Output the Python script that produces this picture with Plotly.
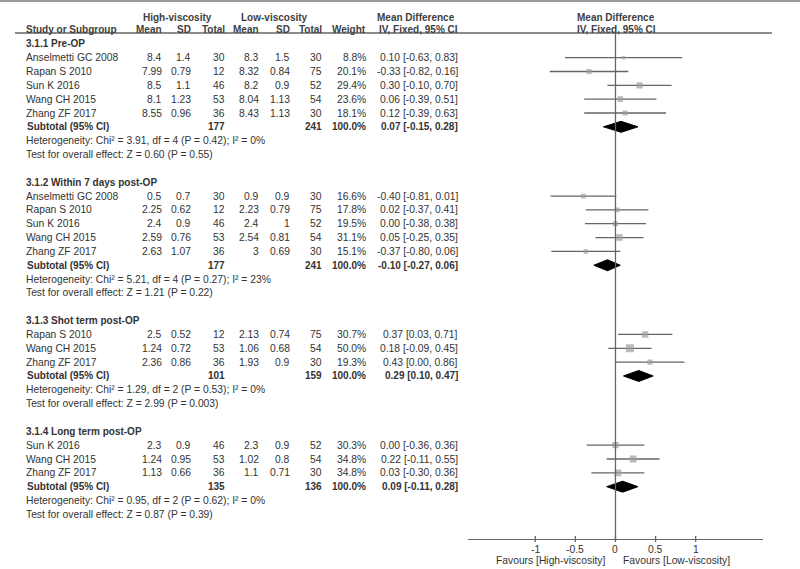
import plotly.graph_objects as go

# ---------------- data ----------------
subgroup_titles = ["3.1.1 Pre-OP", "3.1.2 Within 7 days post-OP",
                   "3.1.3 Shot term post-OP", "3.1.4 Long term post-OP"]

study_group = [0, 0, 0, 0, 0, 1, 1, 1, 1, 1, 2, 2, 2, 3, 3, 3]
study_names = ["Anselmetti GC 2008", "Rapan S 2010", "Sun K 2016", "Wang CH 2015", "Zhang ZF 2017",
               "Anselmetti GC 2008", "Rapan S 2010", "Sun K 2016", "Wang CH 2015", "Zhang ZF 2017",
               "Rapan S 2010", "Wang CH 2015", "Zhang ZF 2017",
               "Sun K 2016", "Wang CH 2015", "Zhang ZF 2017"]
high_mean = [8.4, 7.99, 8.5, 8.1, 8.55, 0.5, 2.25, 2.4, 2.59, 2.63, 2.5, 1.24, 2.36, 2.3, 1.24, 1.13]
high_sd = [1.4, 0.79, 1.1, 1.23, 0.96, 0.7, 0.62, 0.9, 0.76, 1.07, 0.52, 0.72, 0.86, 0.9, 0.95, 0.66]
high_n = [30, 12, 46, 53, 36, 30, 12, 46, 53, 36, 12, 53, 36, 46, 53, 36]
low_mean = [8.3, 8.32, 8.2, 8.04, 8.43, 0.9, 2.23, 2.4, 2.54, 3, 2.13, 1.06, 1.93, 2.3, 1.02, 1.1]
low_sd = [1.5, 0.84, 0.9, 1.13, 1.13, 0.9, 0.79, 1, 0.81, 0.69, 0.74, 0.68, 0.9, 0.9, 0.8, 0.71]
low_n = [30, 75, 52, 54, 30, 30, 75, 52, 54, 30, 75, 54, 30, 52, 54, 30]
weight = [8.8, 20.1, 29.4, 23.6, 18.1, 16.6, 17.8, 19.5, 31.1, 15.1, 30.7, 50.0, 19.3, 30.3, 34.8, 34.8]
md = [0.10, -0.33, 0.30, 0.06, 0.12, -0.40, 0.02, 0.00, 0.05, -0.37, 0.37, 0.18, 0.43, 0.00, 0.22, 0.03]
ci_low = [-0.63, -0.82, -0.10, -0.39, -0.39, -0.81, -0.37, -0.38, -0.25, -0.80, 0.03, -0.09, 0.00, -0.36, -0.11, -0.30]
ci_high = [0.83, 0.16, 0.70, 0.51, 0.63, 0.01, 0.41, 0.38, 0.35, 0.06, 0.71, 0.45, 0.86, 0.36, 0.55, 0.36]

sub_high_n = [177, 177, 101, 135]
sub_low_n = [241, 241, 159, 136]
sub_md = [0.07, -0.10, 0.29, 0.09]
sub_low = [-0.15, -0.27, 0.10, -0.11]
sub_high = [0.28, 0.06, 0.47, 0.28]
heterogeneity = ["Heterogeneity: Chi² = 3.91, df = 4 (P = 0.42); I² = 0%",
                 "Heterogeneity: Chi² = 5.21, df = 4 (P = 0.27); I² = 23%",
                 "Heterogeneity: Chi² = 1.29, df = 2 (P = 0.53); I² = 0%",
                 "Heterogeneity: Chi² = 0.95, df = 2 (P = 0.62); I² = 0%"]
overall_test = ["Test for overall effect: Z = 0.60 (P = 0.55)",
                "Test for overall effect: Z = 1.21 (P = 0.22)",
                "Test for overall effect: Z = 2.99 (P = 0.003)",
                "Test for overall effect: Z = 0.87 (P = 0.39)"]

tick_vals = [-1, -0.5, 0, 0.5, 1]
tick_text = ["-1", "-0.5", "0", "0.5", "1"]
favours_left = "Favours [High-viscosity]"
favours_right = "Favours [Low-viscosity]"

# ---------------- layout helpers ----------------
W, H = 800, 569
FONT = "Liberation Sans, Arial, sans-serif"
FS = 10.3
FSB = 10.0
TXT = "#333333"
AXC = "#666666"
ROW0, DROW = 43.8, 13.84
AXIS_Y = 539

def row_y(i):
    return ROW0 + DROW * i

annotations = []

def txt(x, y, s, anchor="left", bold=False, color=TXT, xref="paper"):
    annotations.append(dict(
        x=(x / W) if xref == "paper" else x, y=y, xref=xref, yref="y",
        text=("<b>%s</b>" % s) if bold else s,
        showarrow=False, xanchor=anchor, yanchor="middle",
        font=dict(family=FONT, size=FSB if bold else FS, color=color)))

def fmt(v):
    return "%g" % v

# column right edges
COL_NAME = 24
COL_HM, COL_HS, COL_HN = 164, 193, 226.5
COL_LM, COL_LS, COL_LN = 260.5, 291.5, 323.5
COL_W, COL_CI = 368, 459.5
PLOT_CX = 616

# header
HC = "#404040"
txt(177, 17.5, "High-viscosity", "center", True, HC)
txt(274, 17.5, "Low-viscosity", "center", True, HC)
txt(416, 17.5, "Mean Difference", "center", True, HC)
txt(PLOT_CX, 17.5, "Mean Difference", "center", True, HC)
txt(COL_NAME, 29.5, "Study or Subgroup", "left", True, HC)
for cx, lab in [(COL_HM, "Mean"), (COL_HS, "SD"), (COL_HN, "Total"), (COL_LM, "Mean"),
                (COL_LS, "SD"), (COL_LN, "Total"), (COL_W, "Weight"), (COL_CI, "IV, Fixed, 95% CI")]:
    txt(cx, 29.5, lab, "right", True, HC)
txt(PLOT_CX, 29.5, "IV, Fixed, 95% CI", "center", True, HC)

# rows
study_rows = []
sub_rows = []
row = 0
for g, title in enumerate(subgroup_titles):
    txt(COL_NAME, row_y(row), title, "left", True)
    row += 1
    for k in range(len(study_names)):
        if study_group[k] != g:
            continue
        y = row_y(row)
        study_rows.append(y)
        txt(COL_NAME, y, study_names[k])
        txt(COL_HM, y, fmt(high_mean[k]), "right")
        txt(COL_HS, y, fmt(high_sd[k]), "right")
        txt(COL_HN, y, str(high_n[k]), "right")
        txt(COL_LM, y, fmt(low_mean[k]), "right")
        txt(COL_LS, y, fmt(low_sd[k]), "right")
        txt(COL_LN, y, str(low_n[k]), "right")
        txt(COL_W, y, "%.1f%%" % weight[k], "right")
        txt(COL_CI, y, "%.2f [%.2f, %.2f]" % (md[k], ci_low[k], ci_high[k]), "right")
        row += 1
    y = row_y(row)
    sub_rows.append(y)
    txt(COL_NAME + 1, y, "Subtotal (95% CI)", "left", True)
    txt(COL_HN, y, str(sub_high_n[g]), "right", True)
    txt(COL_LN, y, str(sub_low_n[g]), "right", True)
    txt(COL_W, y, "100.0%", "right", True)
    txt(COL_CI, y, "%.2f [%.2f, %.2f]" % (sub_md[g], sub_low[g], sub_high[g]), "right", True)
    row += 1
    txt(COL_NAME, row_y(row), heterogeneity[g])
    row += 1
    txt(COL_NAME, row_y(row), overall_test[g])
    row += 2

# axis tick labels (placed on the x data scale) and favours labels
for tv, tt in zip(tick_vals, tick_text):
    txt(tv, 549, tt, "center", xref="x")
txt(607, 560.5, favours_left, "right")
txt(621, 560.5, favours_right, "left")

# ---------------- traces ----------------
fig = go.Figure()

# CI lines
lx, ly = [], []
for k in range(len(md)):
    lx += [ci_low[k], ci_high[k], None]
    ly += [study_rows[k], study_rows[k], None]
fig.add_trace(go.Scatter(x=lx, y=ly, mode="lines", line=dict(color=AXC, width=1.3),
                         hoverinfo="skip", showlegend=False))

# squares
fig.add_trace(go.Scatter(
    x=md, y=study_rows, mode="markers",
    marker=dict(symbol="square", color="#9e9e9e", line=dict(width=0),
                size=[1.15 * w ** 0.5 for w in weight]),
    hoverinfo="skip", showlegend=False))

# diamonds
HH = 5.5
for g in range(len(sub_md)):
    y = sub_rows[g]
    fig.add_trace(go.Scatter(
        x=[sub_low[g], sub_md[g], sub_high[g], sub_md[g], sub_low[g]],
        y=[y, y - HH, y, y + HH, y],
        mode="lines", fill="toself", fillcolor="black", line=dict(color="black", width=1),
        hoverinfo="skip", showlegend=False))

shapes = [
    dict(type="line", xref="paper", yref="y", x0=0, x1=1, y0=1, y1=1,
         line=dict(color="#9a9a9a", width=2)),
    dict(type="line", xref="paper", yref="y", x0=15 / W, x1=772 / W, y0=33, y1=33,
         line=dict(color=AXC, width=1.3)),
    dict(type="line", xref="x", yref="y", x0=0, x1=0, y0=33, y1=AXIS_Y,
         line=dict(color=AXC, width=1.3)),
]
for tv in tick_vals:
    shapes.append(dict(type="line", xref="x", yref="y", x0=tv, x1=tv,
                       y0=AXIS_Y - 3, y1=AXIS_Y + 3, line=dict(color=AXC, width=1.3)))

fig.update_layout(
    width=W, height=H, margin=dict(l=0, r=0, t=0, b=0),
    paper_bgcolor="white", plot_bgcolor="rgba(0,0,0,0)",
    annotations=annotations, shapes=shapes, showlegend=False,
    xaxis=dict(domain=[468.3 / W, 763.3 / W], range=[-1.835, 1.843],
               anchor="free", position=1 - AXIS_Y / H, side="bottom",
               showline=True, linecolor=AXC, linewidth=1.3,
               ticks="", showticklabels=False,
               showgrid=False, zeroline=False, fixedrange=True),
    yaxis=dict(domain=[0, 1], range=[H, 0], visible=False, fixedrange=True),
)

fig.write_html("out.html", config={"displayModeBar": False},
               post_script="document.body.style.margin='0';document.body.style.overflow='hidden';")
